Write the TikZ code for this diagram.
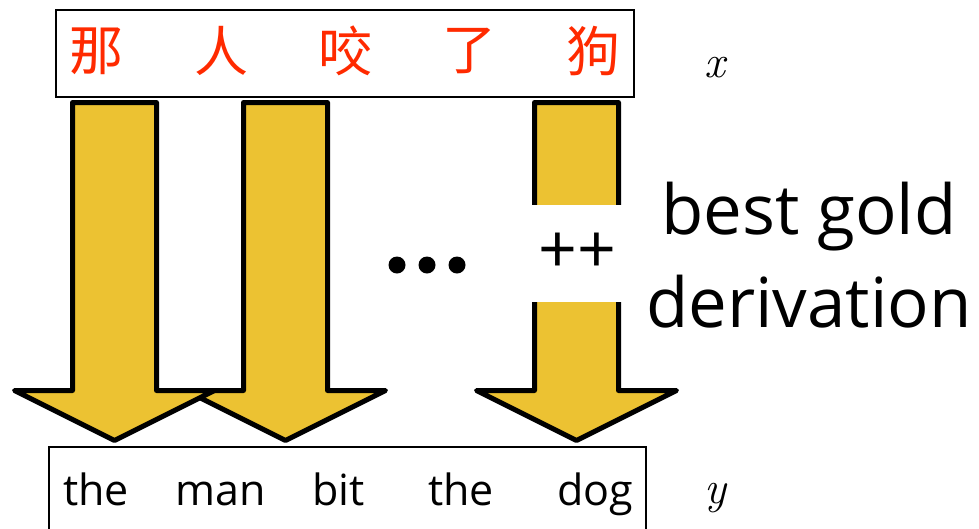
\documentclass[tikz,border=0pt]{standalone}
\usepackage{fontspec}
\setmainfont{Open Sans}
\newfontfamily\cjk{Noto Sans CJK SC}
\newfontfamily\lmrm{Latin Modern Roman}
\usetikzlibrary{positioning}
\definecolor{goldY}{HTML}{ECC232}
\definecolor{zhred}{HTML}{FF2A00}

\begin{document}
\begin{tikzpicture}[x=1pt, y=-1pt,
    zh/.style={font=\cjk\fontsize{54}{54}\selectfont, text=zhred, inner sep=0pt},
    en/.style={font=\fontsize{43}{43}\selectfont, inner sep=0pt, anchor=base},
    var/.style={font=\lmrm\itshape\fontsize{46}{46}\selectfont, inner sep=0pt},
    sentbox/.style={draw, line width=2.2pt, minimum width=#1, inner sep=0pt},
    bigarr/.style={draw, line width=5pt, fill=goldY, line join=round},
    gap/.style={fill=white, inner sep=0pt, font=\fontsize{68}{68}\selectfont},
    big/.style={font=\fontsize{69}{93}\selectfont, align=center, inner sep=0pt}
  ]
  \useasboundingbox (0,0) rectangle (979,528);
  \clip (0,0) rectangle (979,528);

  % block arrows, right one first so the left one lies on top
  \foreach \c in {576.5,285.5,114.5}
    \draw[bigarr] (\c-42,102.5) -- (\c+42,102.5) -- (\c+42,390.5) -- (\c+100,390.5)
      -- (\c,440.5) -- (\c-100,390.5) -- (\c-42,390.5) -- cycle;
  \node[gap, minimum width=107pt, minimum height=97pt] (plus) at (577,253) {++};
  \foreach \d in {397,427,457}
    \fill (\d,265) circle (8.5);

  % source sentence
  \node[sentbox=578pt, minimum height=87pt] (src) at (345,53.5) {};
  \node[zh] (z1) at (96.5,51) {那};
  \node[zh] (z2) at (221,51) {人};
  \node[zh] (z3) at (345,51) {咬};
  \node[zh] (z4) at (469,51) {了};
  \node[zh] (z5) at (593,51) {狗};
  \node[var] (vx) at (715,68) {x};

  % target sentence
  \node[sentbox=597pt, minimum height=90pt] (tgt) at (347.5,492) {};
  \node[en] (e1) at (96,505) {the};
  \node[en] (e2) at (220.5,505) {man};
  \node[en] (e3) at (338.5,505) {bit};
  \node[en] (e4) at (461,505) {the};
  \node[en] (e5) at (595.5,505) {dog};
  \node[var] (vy) at (715,498) {y};

  \node[big] (lbl) at (809,255) {best gold\\derivation};
\end{tikzpicture}
\end{document}
